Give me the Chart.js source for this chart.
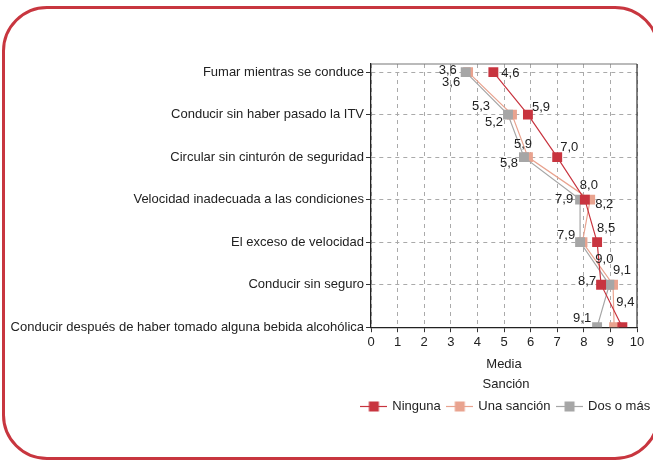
<!DOCTYPE html>
<html>
<head>
<meta charset="utf-8">
<script src="https://cdn.jsdelivr.net/npm/chart.js@4.4.1/dist/chart.umd.min.js"></script>
<style>
  html, body { margin: 0; padding: 0; overflow: hidden; background: #fff; width: 653px; height: 462px; }
  #frame { position: absolute; left: 2px; top: 6px; width: 658px; height: 454px; box-sizing: border-box;
           border: 3px solid #c8363f; border-radius: 45px; }
  #wrap { position: absolute; left: 0; top: 0; width: 1012px; height: 462px; }
</style>
</head>
<body>
<div id="frame"></div>
<div id="wrap"><canvas id="myChart"></canvas></div>
<script>
const categories = [
  'Fumar mientras se conduce',
  'Conducir sin haber pasado la ITV',
  'Circular sin cinturón de seguridad',
  'Velocidad inadecuada a las condiciones',
  'El exceso de velocidad',
  'Conducir sin seguro',
  'Conducir después de haber tomado alguna bebida alcohólica'
];
const seriesNames = ['Ninguna', 'Una sanción', 'Dos o más'];
const ninguna = [4.6, 5.9, 7.0, 8.04, 8.5, 8.65, 9.45];
const unaSancion = [3.65, 5.3, 5.9, 8.24, 7.95, 9.1, 9.14];
const dosOMas = [3.56, 5.15, 5.75, 7.86, 7.86, 8.96, 8.5];
const xTickValues = [0, 1, 2, 3, 4, 5, 6, 7, 8, 9, 10];

const colors = ['#c8343f', '#e9a38f', '#a6a6a6'];
const FONT = '"Liberation Sans", Arial, sans-serif';

// where each value label sits relative to its marker (null = not shown)
const labelOffsets = [
  [[17, 1], [13, -7], [12, -10], [4, -14], [9, -14], [-14, -3], [3, -25]],
  [[-17, 10], [-31, -8], [-5, -13], [14, 5], null, [9, -14], [-32, -9]],
  [[-18, -2], [-14, 8], [-15, 6], [-16, 0], [-14, -7], [-5, -25], null]
];

function toPoints(values) {
  return values.map((v, i) => ({ x: v, y: i }));
}

function legendIcon(color) {
  const c = document.createElement('canvas');
  c.width = 27;
  c.height = 11;
  const g = c.getContext('2d');
  g.strokeStyle = color;
  g.lineWidth = 1.2;
  g.beginPath();
  g.moveTo(0, 5.5);
  g.lineTo(27, 5.5);
  g.stroke();
  g.fillStyle = color;
  g.fillRect(8.5, 0.5, 10, 10);
  return c;
}

const plotBorder = {
  id: 'plotBorder',
  beforeDatasetsDraw(chart) {
    const a = chart.chartArea;
    const ctx = chart.ctx;
    ctx.save();
    ctx.strokeStyle = '#777';
    ctx.lineWidth = 1.2;
    ctx.beginPath();
    ctx.moveTo(a.left, a.top);
    ctx.lineTo(a.right, a.top);
    ctx.stroke();
    ctx.strokeStyle = '#333';
    ctx.beginPath();
    ctx.moveTo(a.right, a.top);
    ctx.lineTo(a.right, a.bottom);
    ctx.stroke();
    ctx.restore();
  }
};

const valueLabels = {
  id: 'valueLabels',
  afterDatasetsDraw(chart) {
    const ctx = chart.ctx;
    ctx.save();
    ctx.font = '13px ' + FONT;
    ctx.fillStyle = '#222';
    ctx.textBaseline = 'middle';
    ctx.textAlign = 'center';
    chart.data.datasets.forEach((ds, i) => {
      const meta = chart.getDatasetMeta(i);
      meta.data.forEach((pt, j) => {
        const off = labelOffsets[i][j];
        if (!off) return;
        const txt = ds.data[j].x.toFixed(1).replace('.', ',');
        ctx.fillText(txt, pt.x + off[0], pt.y + off[1]);
      });
    });
    ctx.restore();
  }
};

const allSeries = [ninguna, unaSancion, dosOMas];
const drawOrder = [0, 2, 1];

const ctx1 = document.getElementById('myChart');
const myChart = new Chart(ctx1, {
  type: 'line',
  data: {
    datasets: allSeries.map((vals, i) => ({
      label: seriesNames[i],
      data: toPoints(vals),
      borderColor: colors[i],
      backgroundColor: colors[i],
      borderWidth: 1.2,
      pointStyle: 'rect',
      pointRadius: 7,
      pointBorderWidth: 0,
      order: drawOrder[i],
      tension: 0
    }))
  },
  options: {
    responsive: true,
    maintainAspectRatio: false,
    animation: false,
    indexAxis: 'y',
    layout: { padding: { top: 64, left: 0, right: 0, bottom: 39 } },
    scales: {
      x: {
        type: 'linear',
        min: 0,
        max: 10,
        afterBuildTicks: (s) => { s.ticks = xTickValues.map(v => ({ value: v })); },
        ticks: { color: '#222', font: { family: FONT, size: 13 }, padding: 2 },
        grid: { color: '#aaa', tickColor: '#333', tickLength: 5, tickBorderDash: [] },
        border: { color: '#222', width: 1.3, dash: [4, 4] },
        title: { display: true, text: 'Media', color: '#222', font: { family: FONT, size: 13 }, padding: { top: 5, bottom: 2 } }
      },
      y: {
        type: 'linear',
        reverse: true,
        min: -0.19,
        max: categories.length - 1,
        afterBuildTicks: (s) => { s.ticks = categories.map((c, i) => ({ value: i })); },
        afterFit: (s) => { s.width = 371; },
        ticks: {
          color: '#222',
          font: { family: FONT, size: 13 },
          padding: 2,
          callback: (v) => categories[v]
        },
        grid: { color: '#aaa', tickColor: '#333', tickLength: 5, tickBorderDash: [] },
        border: { color: '#222', width: 1.3, dash: [4, 4] }
      },
      // empty box on the right so the legend centres under the plot
      spacer: {
        type: 'linear',
        position: 'right',
        afterFit: (s) => { s.width = 375; },
        ticks: { display: false },
        grid: { display: false, drawTicks: false },
        border: { display: false }
      }
    },
    plugins: {
      tooltip: { enabled: false },
      legend: {
        position: 'bottom',
        title: { display: true, text: 'Sanción', color: '#222', font: { family: FONT, size: 13 }, padding: { top: 4, bottom: -1 } },
        labels: {
          usePointStyle: true,
          pointStyleWidth: 24,
          boxHeight: 13,
          padding: 7,
          color: '#222',
          font: { family: FONT, size: 13 },
          generateLabels: (chart) => chart.data.datasets.map((ds, i) => ({
            text: ds.label,
            fillStyle: colors[i],
            strokeStyle: colors[i],
            lineWidth: 0,
            pointStyle: legendIcon(colors[i]),
            hidden: false,
            datasetIndex: i
          }))
        }
      }
    }
  },
  plugins: [plotBorder, valueLabels]
});
</script>
</body>
</html>
